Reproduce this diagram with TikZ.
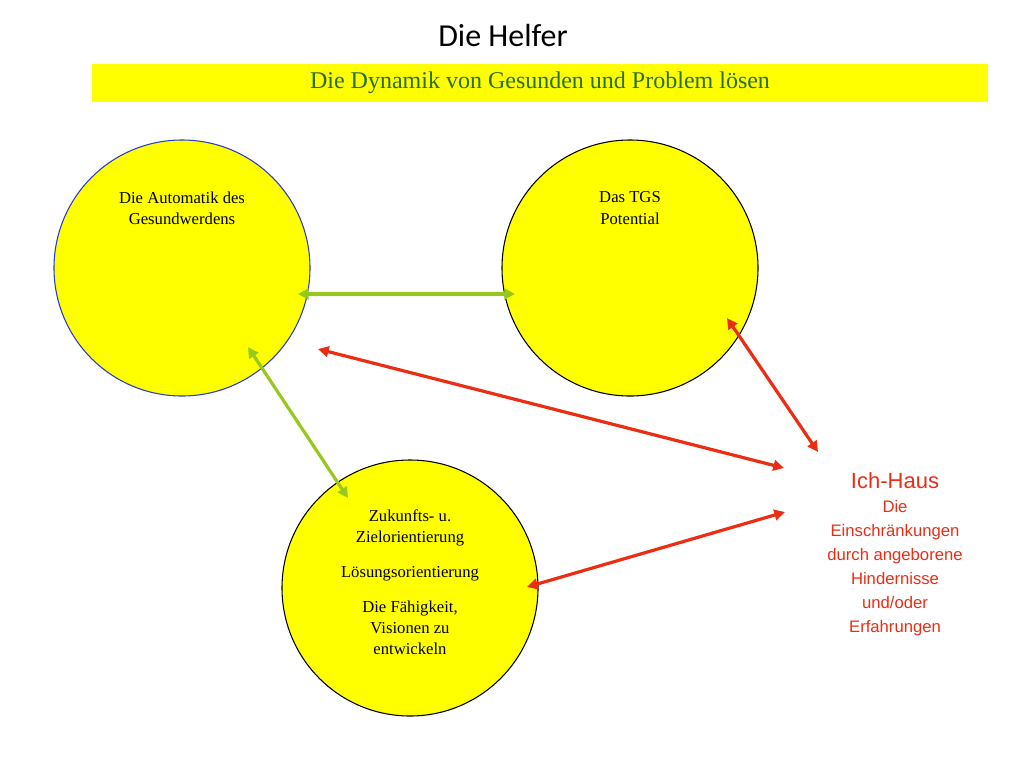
\documentclass[tikz,border=0pt]{standalone}
\usepackage{fontspec}
\setmainfont{Liberation Serif}
\newfontfamily\titlefont{Carlito}
\newfontfamily\redfont{Liberation Sans}
\usetikzlibrary{arrows.meta,positioning}
\definecolor{barYellow}{RGB}{255,255,0}
\definecolor{barText}{RGB}{40,110,40}
\definecolor{linkGreen}{RGB}{150,200,30}
\definecolor{linkRed}{RGB}{235,45,20}
\definecolor{ringBlue}{RGB}{40,60,200}
\tikzset{
  % For the three circles.
  topic/.style={
    circle,
    draw,
    line width=0.8pt,
    fill=barYellow,
    minimum size=192pt,
    inner sep=0pt},
%
  % For texts inside the circles.
  topic text/.style={
    font=\fontsize{12.5}{16}\selectfont,
    align=center},
%
  % For connectors.
  green link/.style={
    {Triangle[length=8pt,width=8pt]}-{Triangle[length=8pt,width=8pt]},
    line width=2.4pt,
    draw=linkGreen},
  red link/.style={
    {Triangle[length=8pt,width=8pt]}-{Triangle[length=8pt,width=8pt]},
    line width=2.4pt,
    draw=linkRed},
}
\begin{document}
\begin{tikzpicture}[x=0.75pt,y=-0.75pt]
  \useasboundingbox (0,0) rectangle (1024,768);

  \node[font=\titlefont\fontsize{24}{28}\selectfont] (title) at (503,35) {Die Helfer};
  \node[fill=barYellow, minimum width=672pt, minimum height=28.5pt,
        text=barText, font=\fontsize{18}{22}\selectfont] (bar) at (540,83)
    {Die Dynamik von Gesunden und Problem lösen};

  \node[topic, draw=ringBlue] (auto) at (182,268) {};
  \node[topic] (tgs) at (630,268) {};
  \node[topic] (zukunft) at (410,588) {};

  \node[topic text] (autoText) at (182,208) {Die Automatik des\\Gesundwerdens};
  \node[topic text] (tgsText) at (630,208) {Das TGS\\Potential};
  \node[topic text, anchor=north] (zukunftText) at (410,505)
    {Zukunfts- u.\\Zielorientierung\\[10pt]Lösungsorientierung\\[10pt]Die Fähigkeit,\\Visionen zu\\entwickeln};

  \node[text=linkRed, align=center, font=\redfont\fontsize{12.5}{18}\selectfont, anchor=north]
    (ich) at (895,468)
    {{\fontsize{16.5}{20}\selectfont Ich-Haus}\\Die\\Einschränkungen\\durch angeborene\\Hindernisse\\und/oder\\Erfahrungen};

  % Arrow ends.
  \coordinate (a1) at (298,294);
  \coordinate (a2) at (515,294);
  \coordinate (b1) at (248,347);
  \coordinate (b2) at (348,498);
  \coordinate (c1) at (318,349);
  \coordinate (c2) at (784,468);
  \coordinate (d1) at (727,318);
  \coordinate (d2) at (818,452);
  \coordinate (e1) at (527,587);
  \coordinate (e2) at (785,512);

  \draw[green link] (a1) -- (a2);
  \draw[green link] (b1) -- (b2);
  \draw[red link] (c1) -- (c2);
  \draw[red link] (d1) -- (d2);
  \draw[red link] (e1) -- (e2);
\end{tikzpicture}
\end{document}
